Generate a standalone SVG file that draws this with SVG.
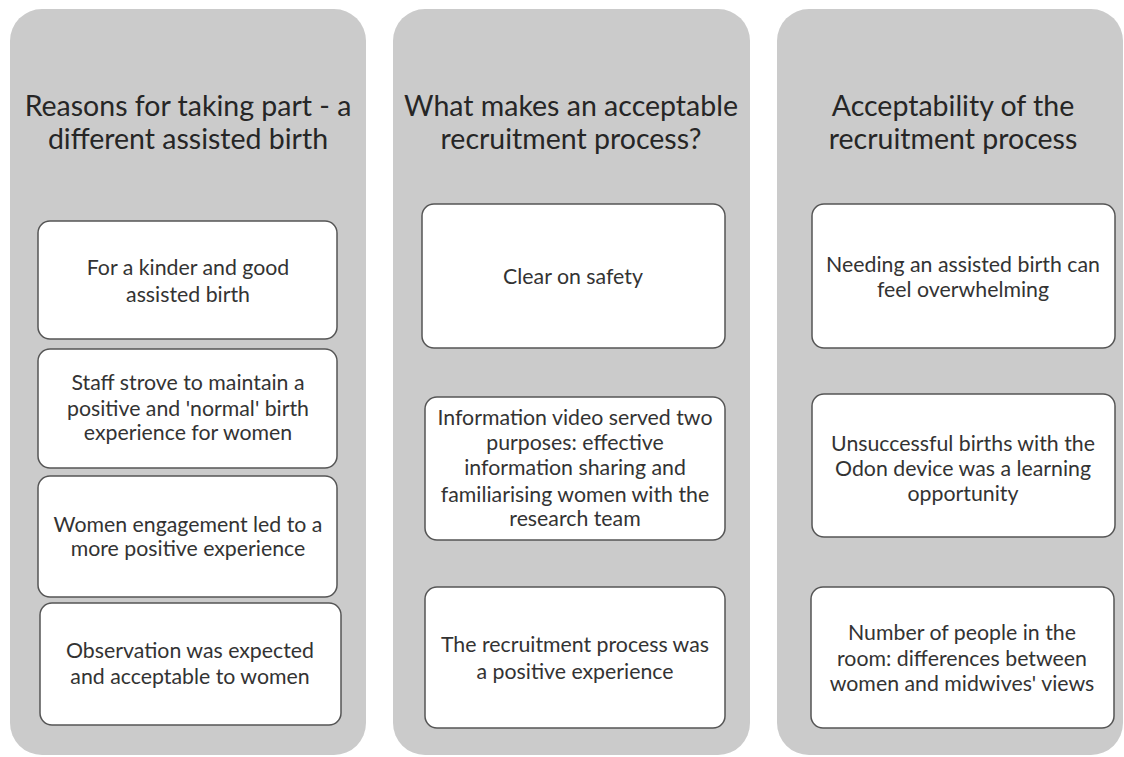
<svg xmlns="http://www.w3.org/2000/svg" width="1124" height="757" viewBox="0 0 1124 757">
<style>
.col{fill:#cbcbcb;}
.box{fill:#ffffff;stroke:#555555;stroke-width:1.5;}
.title{font-family:Lato,"Liberation Sans",sans-serif;font-size:28.5px;fill:#262626;text-anchor:middle;}
.txt{font-family:Lato,"Liberation Sans",sans-serif;font-size:21.3px;fill:#333333;text-anchor:middle;}
</style>
<rect width="1124" height="757" fill="#ffffff"/>
<g id="column1">
<rect class="col" x="10" y="9" width="356" height="746" rx="32"/>
<text class="title" x="188" y="116">Reasons for taking part - a</text>
<text class="title" x="188" y="149">different assisted birth</text>
</g>
<g id="column2">
<rect class="col" x="393" y="9" width="357" height="746" rx="32"/>
<text class="title" x="571" y="116">What makes an acceptable</text>
<text class="title" x="571" y="149">recruitment process?</text>
</g>
<g id="column3">
<rect class="col" x="777" y="9" width="346" height="746" rx="32"/>
<text class="title" x="953" y="116">Acceptability of the</text>
<text class="title" x="953" y="149">recruitment process</text>
</g>
<g id="n1a">
<rect class="box" x="38" y="221" width="299" height="118" rx="12"/>
<text class="txt" x="188" y="275">For a kinder and good</text>
<text class="txt" x="188" y="302">assisted birth</text>
</g>
<g id="n1b">
<rect class="box" x="38" y="349" width="299" height="119" rx="12"/>
<text class="txt" x="188" y="390">Staff strove to maintain a</text>
<text class="txt" x="188" y="416">positive and 'normal' birth</text>
<text class="txt" x="188" y="440">experience for women</text>
</g>
<g id="n1c">
<rect class="box" x="38" y="476" width="299" height="121" rx="12"/>
<text class="txt" x="188" y="532">Women engagement led to a</text>
<text class="txt" x="188" y="556">more positive experience</text>
</g>
<g id="n1d">
<rect class="box" x="40" y="603" width="301" height="122" rx="12"/>
<text class="txt" x="190" y="658">Observation was expected</text>
<text class="txt" x="190" y="684">and acceptable to women</text>
</g>
<g id="n2a">
<rect class="box" x="422" y="204" width="303" height="144" rx="12"/>
<text class="txt" x="573" y="284">Clear on safety</text>
</g>
<g id="n2b">
<rect class="box" x="425" y="397" width="300" height="143" rx="12"/>
<text class="txt" x="575" y="425">Information video served two</text>
<text class="txt" x="575" y="450">purposes: effective</text>
<text class="txt" x="575" y="475">information sharing and</text>
<text class="txt" x="575" y="502">familiarising women with the</text>
<text class="txt" x="575" y="526">research team</text>
</g>
<g id="n2c">
<rect class="box" x="425" y="587" width="300" height="141" rx="12"/>
<text class="txt" x="575" y="652">The recruitment process was</text>
<text class="txt" x="575" y="679">a positive experience</text>
</g>
<g id="n3a">
<rect class="box" x="812" y="204" width="303" height="144" rx="12"/>
<text class="txt" x="963" y="272">Needing an assisted birth can</text>
<text class="txt" x="963" y="297">feel overwhelming</text>
</g>
<g id="n3b">
<rect class="box" x="812" y="394" width="303" height="143" rx="12"/>
<text class="txt" x="963" y="451">Unsuccessful births with the</text>
<text class="txt" x="963" y="476">Odon device was a learning</text>
<text class="txt" x="963" y="501">opportunity</text>
</g>
<g id="n3c">
<rect class="box" x="811" y="587" width="303" height="141" rx="12"/>
<text class="txt" x="962" y="640">Number of people in the</text>
<text class="txt" x="962" y="666">room: differences between</text>
<text class="txt" x="962" y="691">women and midwives' views</text>
</g>
<g id="connectors"></g>
</svg>
